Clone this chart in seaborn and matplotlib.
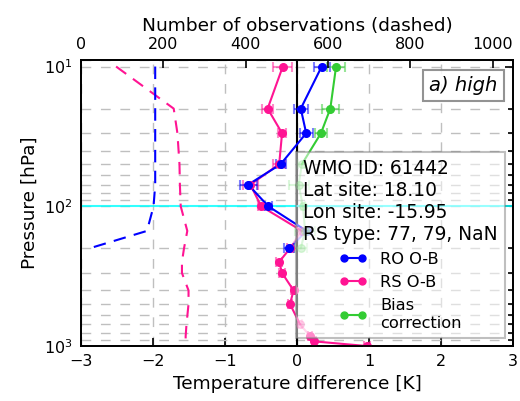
import matplotlib
matplotlib.use("Agg")
import matplotlib.pyplot as plt
from matplotlib.lines import Line2D
from matplotlib.offsetbox import AnchoredText
import seaborn as sns

# pressure levels [hPa]
levels = [10, 20, 30, 50, 70, 100, 150, 200, 250, 300, 400, 500, 700, 850, 925, 1000]

# RO O-B (10-200 hPa)
ro_levels = levels[:8]
ro_ob = [0.34, 0.05, 0.125, -0.23, -0.68, -0.40, 0.13, -0.11]
ro_err = [0.11, 0.10, 0.09, 0.07, 0.12, 0.05, 0.08, 0.07]
ro_faded = [False, False, False, False, False, False, True, False]
ro_count = [180, 180, 180, 180, 180, 176, 160, 20]

# RS O-B (all levels)
rs_ob = [-0.20, -0.41, -0.21, -0.25, -0.65, -0.50, 0.065, -0.10,
         -0.25, -0.21, -0.05, -0.10, 0.04, 0.18, 0.23, 0.97]
rs_err = [0.135, 0.076, 0.06, 0.08, 0.10, 0.04, 0.05, 0.04,
          0.04, 0.04, 0.03, 0.03, 0.03, 0.03, 0.03, 0.04]
rs_faded = [False, False, False, False, False, False, True, False,
            False, False, False, False, True, False, False, False]
rs_count = [85, 225, 234, 239, 240, 242, 258, 250,
            245, 245, 261, 261, 256, 254, 254, 256]

# bias correction (10-200 hPa)
bc_levels = levels[:8]
bc = [0.54, 0.46, 0.33, 0.065, 0.02, 0.08, 0.11, 0.05]
bc_err = [0.13, 0.12, 0.08, 0.05, 0.14, 0.03, 0.14, 0.08]
bc_faded = [False, False, False, True, True, True, True, True]

site_info = "WMO ID: 61442\nLat site: 18.10\nLon site: -15.95\nRS type: 77, 79, NaN"

c_ro = "#0000ff"
c_rs = "#ff1493"
c_bc = "#33cc33"

sns.set_style("white")
plt.rcParams["font.family"] = ["DejaVu Sans"]
plt.rcParams.update({
    "axes.linewidth": 1.3,
    "axes.edgecolor": "black",
    "text.color": "black",
    "axes.labelcolor": "black",
    "xtick.color": "black",
    "ytick.color": "black",
})

fig = plt.figure(figsize=(5.2, 4.01), dpi=100)
ax = fig.add_axes([0.156, 0.137, 0.831, 0.713])
ax.set_yscale("log")


def profile(x, y, err, faded, color):
    # line segment takes the alpha of its upper point
    for i in range(len(x) - 1):
        a = 0.35 if faded[i] else 1.0
        ax.plot(x[i:i + 2], y[i:i + 2], color=color, lw=1.5, alpha=a, zorder=3)
    for xi, yi, ei, f in zip(x, y, err, faded):
        a = 0.35 if f else 1.0
        ax.errorbar(xi, yi, xerr=ei, fmt="none", ecolor=color, elinewidth=1.5,
                    capsize=3.5, capthick=1.5, alpha=0.5 * a, zorder=3)
        ax.plot(xi, yi, "o", color=color, ms=5.5, mec=color, alpha=a, zorder=4)


ax.axvline(0, color="black", lw=1.5, zorder=2)
ax.axhline(100, color="cyan", lw=1.5, alpha=0.8, zorder=2)

profile(rs_ob, levels, rs_err, rs_faded, c_rs)
profile(ro_ob, ro_levels, ro_err, ro_faded, c_ro)
profile(bc, bc_levels, bc_err, bc_faded, c_bc)

ax.set_xlim(-3, 3)
ax.set_ylim(1000, 9)
ax.set_xticks([-3, -2, -1, 0, 1, 2, 3])
ax.grid(True, which="both", axis="y", color="0.75", ls=(0, (7, 7)), lw=1)
ax.grid(True, which="major", axis="x", color="0.75", ls=(0, (7, 7)), lw=1)
ax.set_axisbelow(True)
ax.tick_params(which="both", direction="in", right=True, top=False,
               labelsize=11.5, pad=6)
ax.tick_params(which="major", length=6, width=1.2)
ax.tick_params(which="minor", length=3.5, width=1.2)
ax.set_xlabel("Temperature difference [K]", fontsize=13.3)
ax.set_ylabel("Pressure [hPa]", fontsize=13.3)

# observation counts on the top axis
ax2 = ax.twiny()
sns.lineplot(x=rs_count, y=levels, sort=False, orient="y", errorbar=None,
             color=c_rs, lw=1.5, dashes=False, ax=ax2)
sns.lineplot(x=ro_count, y=ro_levels, sort=False, orient="y", errorbar=None,
             color=c_ro, lw=1.5, dashes=False, ax=ax2)
for ln in ax2.lines:
    ln.set_linestyle((0, (6, 4)))
ax2.set_xlim(0, 1050)
ax2.set_xticks([0, 200, 400, 600, 800, 1000])
ax2.set_ylim(1000, 9)
ax2.tick_params(axis="x", direction="in", labelsize=11.5, length=6, width=1.2, pad=6)
ax2.set_xlabel("Number of observations (dashed)", fontsize=13.3)
ax2.set_ylabel("")

handles = [
    Line2D([], [], color=c_ro, marker="o", ms=5, lw=1.5),
    Line2D([], [], color=c_rs, marker="o", ms=5, lw=1.5),
    Line2D([], [], color=c_bc, marker="o", ms=5, lw=1.5),
]
leg = ax2.legend(handles, ["RO O-B", "RS O-B", "Bias\ncorrection"],
                 title=site_info, loc="lower right", fontsize=11.7,
                 title_fontsize=13.4, numpoints=2, handlelength=1.7,
                 fancybox=False, framealpha=0.5, edgecolor="gray",
                 labelspacing=0.5, borderpad=0.45)
leg.get_frame().set_linewidth(1.5)

at = AnchoredText("a) high", loc="upper right", frameon=True,
                  prop=dict(size=14, style="italic"), borderpad=0.5, pad=0.3)
at.patch.set_edgecolor("gray")
at.patch.set_linewidth(1.5)
at.patch.set_alpha(0.85)
ax2.add_artist(at)

fig.savefig("out.png", dpi=100)
